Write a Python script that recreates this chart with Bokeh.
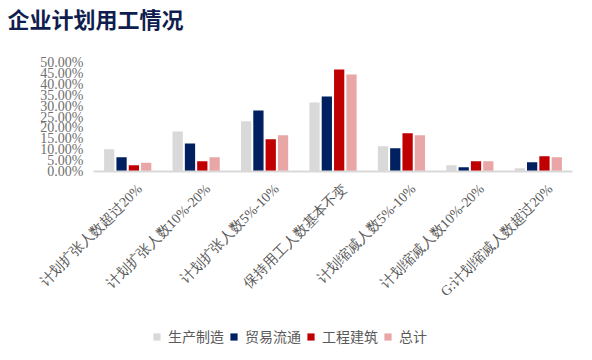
from bokeh.plotting import figure
from bokeh.models import ColumnDataSource, Legend, LegendItem, LabelSet, Label, Range1d
from bokeh.transform import dodge
from bokeh.embed import file_html
from bokeh.resources import INLINE
import math

categories = ["计划扩张人数超过20%", "计划扩张人数10%-20%", "计划扩张人数5%-10%", "保持用工人数基本不变",
              "计划缩减人数5%-10%", "计划缩减人数10%-20%", "G:计划缩减人数超过20%"]
manufacturing = [10.2, 18.4, 23.0, 31.7, 11.6, 2.9, 1.5]
trade = [6.5, 12.9, 28.0, 34.4, 10.7, 2.0, 4.3]
construction = [2.9, 4.7, 14.8, 46.8, 17.5, 4.7, 7.0]
total = [4.0, 6.5, 16.6, 44.5, 16.6, 4.7, 6.5]
series_names = ["生产制造", "贸易流通", "工程建筑", "总计"]
colors = ["#d9d9d9", "#002060", "#c00000", "#e9a6a6"]
y_ticks = [0, 5, 10, 15, 20, 25, 30, 35, 40, 45, 50]

n = len(categories)
src = ColumnDataSource(dict(xc=[i + 0.5 for i in range(n)], cat=categories,
                            m=manufacturing, t=trade, c=construction, s=total,
                            base=[0] * n))
tick_src = ColumnDataSource(dict(y=y_ticks, x=[0] * len(y_ticks),
                                 label=["%.2f%%" % v for v in y_ticks]))

W, H = 585, 350
px_x = 68.43   # pixels per category
px_y = 2.18    # pixels per percentage point
x0 = -93 / px_x
y1 = 50 + 62 / px_y
p = figure(x_range=Range1d(x0, x0 + W / px_x), y_range=Range1d(y1 - H / px_y, y1),
           width=W, height=H, output_backend="svg", toolbar_location=None,
           x_axis_location=None, y_axis_location=None,
           min_border_left=0, min_border_right=0, min_border_top=0, min_border_bottom=0)
p.xgrid.visible = False
p.ygrid.visible = False
p.outline_line_color = None

p.add_layout(Label(x=7, y=H - 17, x_units="screen", y_units="screen", text="企业计划用工情况",
                   text_font="Noto Sans CJK SC", text_font_size="22px", text_font_style="bold",
                   text_color="#0f1e4e", text_baseline="middle", text_align="left"))

offsets = [-0.27, -0.09, 0.09, 0.27]
fields = ["m", "t", "c", "s"]
renderers = []
for f, off, col in zip(fields, offsets, colors):
    r = p.vbar(x=dodge("xc", off), top=f, width=0.15, source=src,
               fill_color=col, line_color=None)
    renderers.append(r)

# category axis line
p.segment(x0=0, x1=n, y0=0, y1=0, line_color="#d9d9d9", line_width=2)

# value axis tick labels
p.add_layout(LabelSet(x="x", y="y", text="label", source=tick_src, x_offset=-10,
                      text_align="right", text_baseline="middle", text_font="Roboto",
                      text_font_size="14px", text_color="#6f6f6f"))

# category labels, rotated 45 degrees
p.add_layout(LabelSet(x="xc", y="base", text="cat", source=src,
                      angle=math.pi / 4, text_align="right", text_baseline="middle",
                      x_offset=12, y_offset=-15, text_font="Noto Sans CJK SC", text_font_size="14px",
                      text_color="#595959"))

legend = Legend(items=[LegendItem(label=nm, renderers=[r]) for nm, r in zip(series_names, renderers)],
                orientation="horizontal", location=(152, 4))
legend.label_text_font = "Noto Sans CJK SC"
legend.label_text_font_size = "14px"
legend.label_text_color = "#595959"
legend.glyph_width = 9
legend.glyph_height = 9
legend.spacing = 5
legend.label_standoff = 7
legend.padding = 2
legend.margin = 0
legend.border_line_color = None
legend.background_fill_alpha = 0
p.add_layout(legend)

open("out.html", "w").write(file_html(p, INLINE))
